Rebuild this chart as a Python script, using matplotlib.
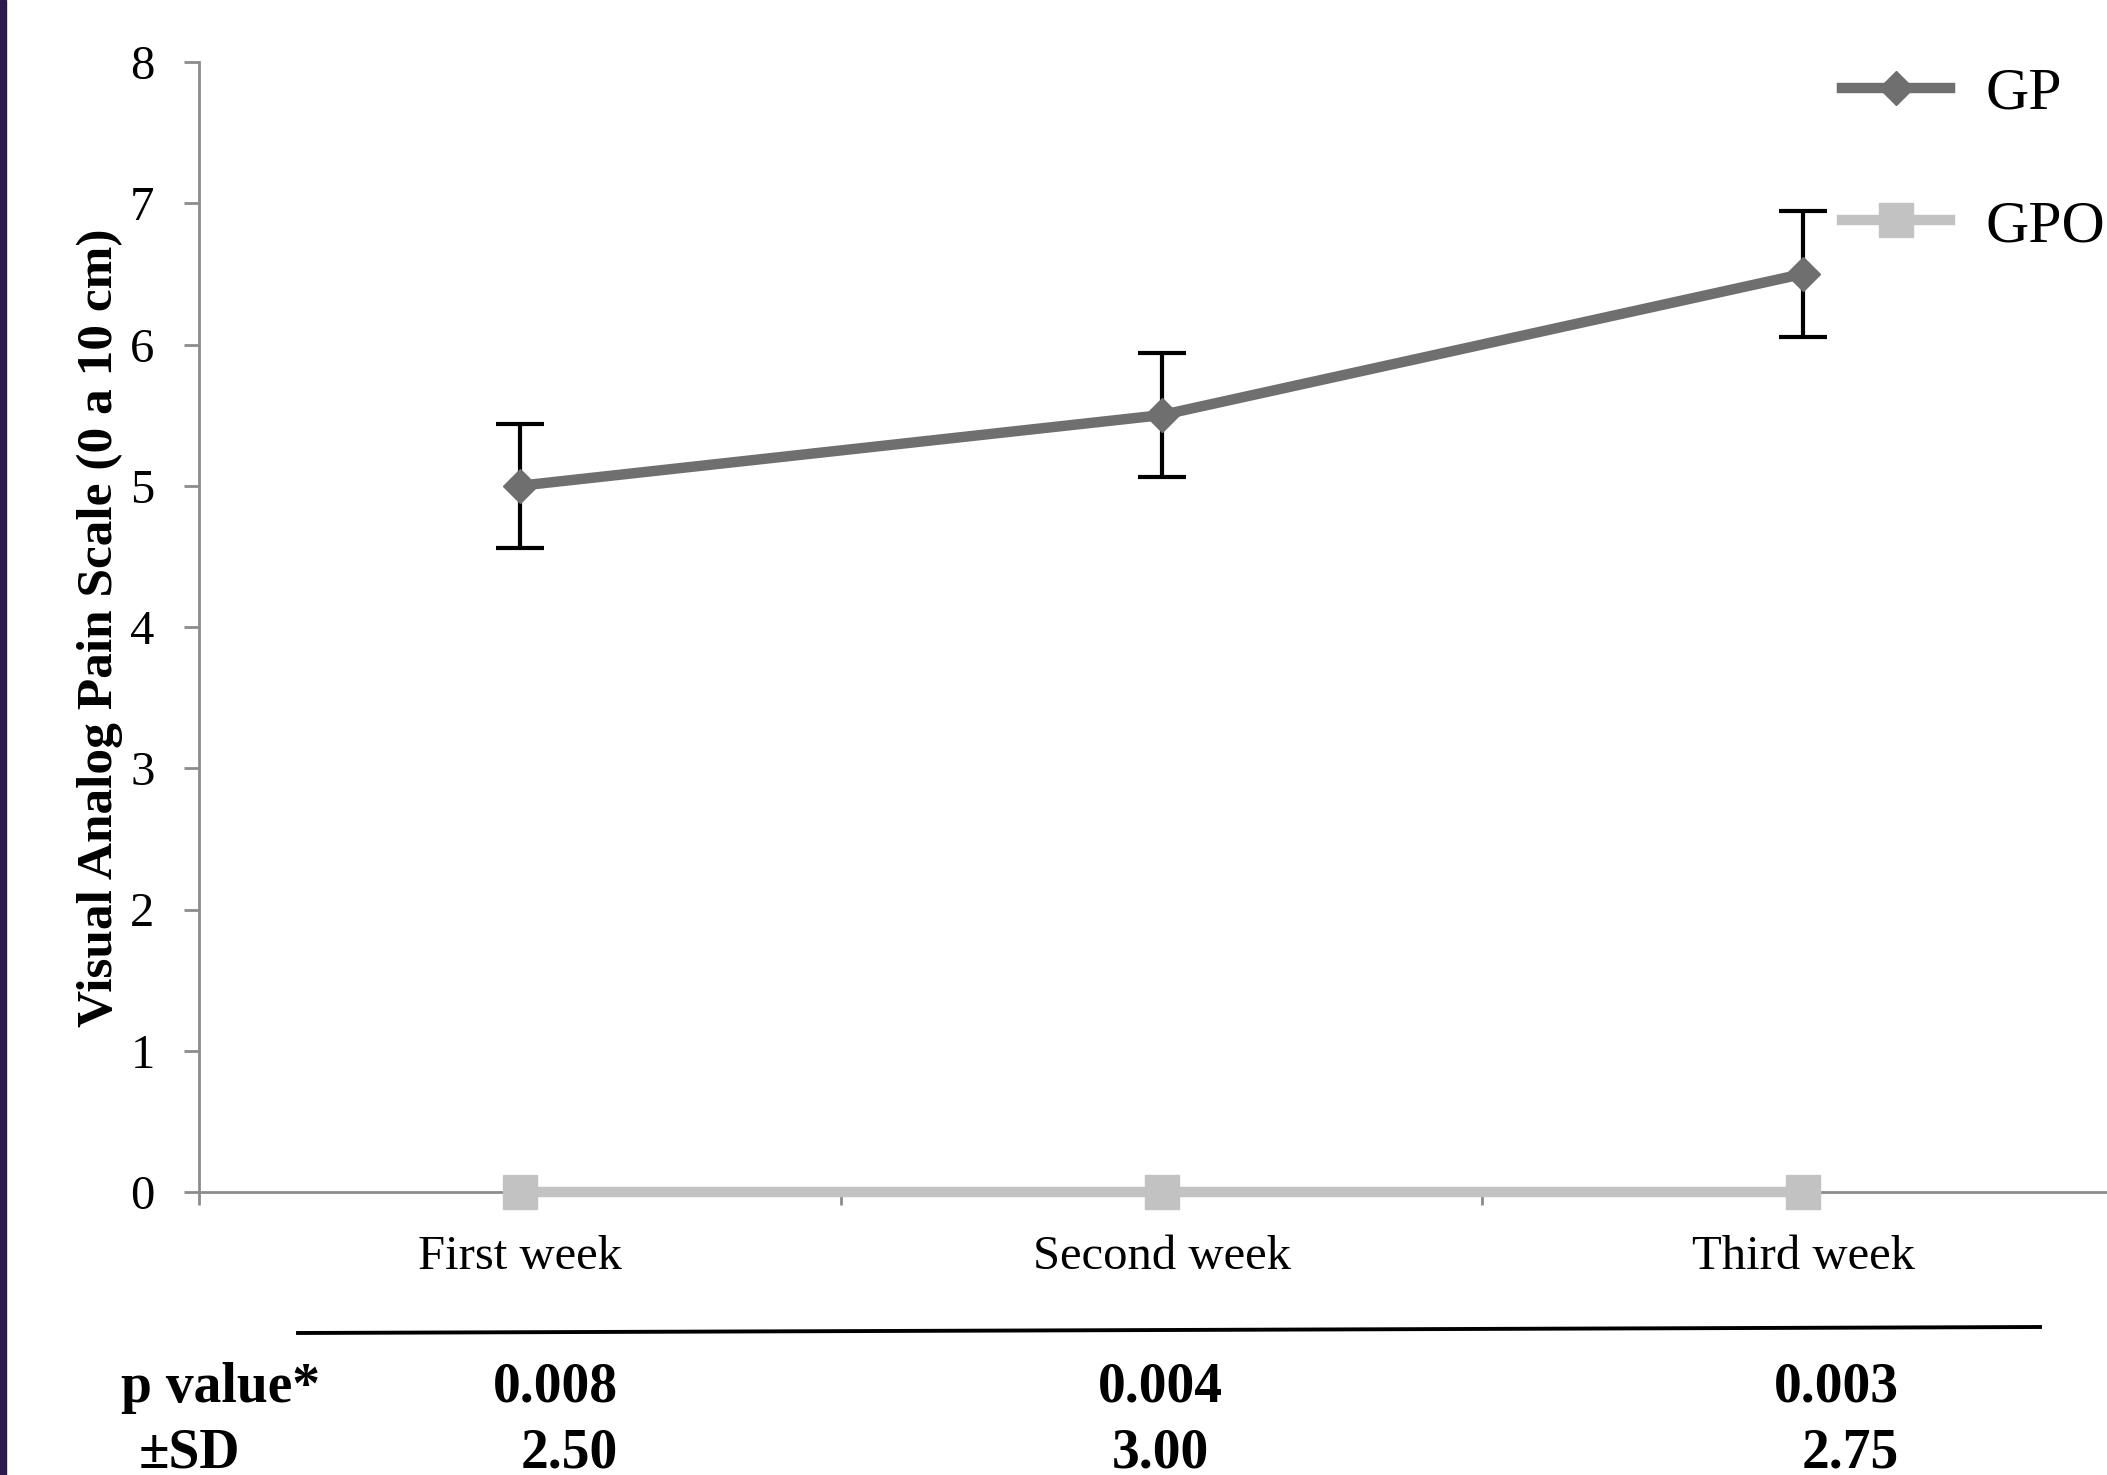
import matplotlib
matplotlib.use('Agg')
import matplotlib.pyplot as plt
from matplotlib.lines import Line2D
from matplotlib.patches import Rectangle

# --- data ---
weeks = ['First week', 'Second week', 'Third week']
gp_vas = [5.0, 5.5, 6.5]
gp_err = [0.44, 0.44, 0.445]
gpo_vas = [0.0, 0.0, 0.0]
p_values = ['0.008', '0.004', '0.003']
sd_values = ['2.50', '3.00', '2.75']

W, H = 2107, 1475
SERIF = ['Liberation Serif', 'DejaVu Serif']
GP_GREY = '#6f6f6f'
GPO_GREY = '#c2c2c2'
AXIS_GREY = '#8c8c8c'

plt.rcParams['font.family'] = SERIF

fig = plt.figure(figsize=(W / 100, H / 100), dpi=100)
fig.patch.set_facecolor('white')

# dark strip on the left edge of the scan
fig.add_artist(Rectangle((0, 0), 6 / W, 1, transform=fig.transFigure,
                         color='#2b1a4d', zorder=10))

ax = fig.add_axes([199 / W, 1 - 1192 / H, 1925 / W, 1130 / H])
x = list(range(len(weeks)))

ax.errorbar(x, gp_vas, yerr=gp_err, fmt='none', ecolor='black',
            elinewidth=3, capsize=17, capthick=3, zorder=3)
ax.plot(x, gp_vas, color=GP_GREY, lw=7.5, marker='D', ms=17.5,
        zorder=4, label='GP')
ax.plot(x, gpo_vas, color=GPO_GREY, lw=7.5, marker='s', ms=25,
        zorder=4, clip_on=False, label='GPO')

ax.set_xlim(-0.5, 2.5)
ax.set_ylim(0, 8)
ax.set_yticks(range(0, 9))
ax.set_xticks(x)
ax.set_xticklabels(weeks)
ax.set_xticks([-0.5, 0.5, 1.5, 2.5], minor=True)

for side in ['top', 'right']:
    ax.spines[side].set_visible(False)
for side in ['left', 'bottom']:
    ax.spines[side].set_color(AXIS_GREY)
    ax.spines[side].set_linewidth(2)

ax.tick_params(axis='y', which='major', length=11, width=2, color=AXIS_GREY,
               labelsize=35, pad=21)
ax.tick_params(axis='x', which='major', length=0, labelsize=35, pad=31)
ax.tick_params(axis='x', which='minor', length=9, width=2, color=AXIS_GREY)

fig.text(100 / W, 1 - 628 / H, 'Visual Analog Pain Scale (0 a 10 cm)',
         rotation=90, ha='center', va='center', fontsize=37,
         fontweight='bold')

handles = [
    Line2D([], [], color=GP_GREY, lw=7.5, marker='D', ms=17.5),
    Line2D([], [], color=GPO_GREY, lw=7.5, marker='s', ms=25),
]
fig.legend(handles, ['GP', 'GPO'], loc='upper left',
           bbox_to_anchor=(1842 / W, 1 - 67 / H), frameon=False,
           fontsize=43, borderpad=0, borderaxespad=0, handlelength=1.8,
           handletextpad=0.6, labelspacing=1.3)

# summary table under the axis
fig.add_artist(Line2D([298 / W, 2040 / W], [1 - 1333 / H, 1 - 1327 / H],
                      transform=fig.transFigure, color='black', lw=2.8))

fig.text(121 / W, 1 - 1388 / H, 'p value*', ha='left', va='center',
         fontsize=40, fontweight='bold')
fig.text(139 / W, 1 - 1453 / H, '\u00b1SD', ha='left', va='center',
         fontsize=40, fontweight='bold')

p_right = [618, 1223, 1899]
sd_right = [618, 1209, 1899]
for pv, xr in zip(p_values, p_right):
    fig.text(xr / W, 1 - 1388 / H, pv, ha='right', va='center',
             fontsize=40, fontweight='bold')
for sd, xr in zip(sd_values, sd_right):
    fig.text(xr / W, 1 - 1453 / H, sd, ha='right', va='center',
             fontsize=40, fontweight='bold')

fig.savefig('out.png', dpi=100)
